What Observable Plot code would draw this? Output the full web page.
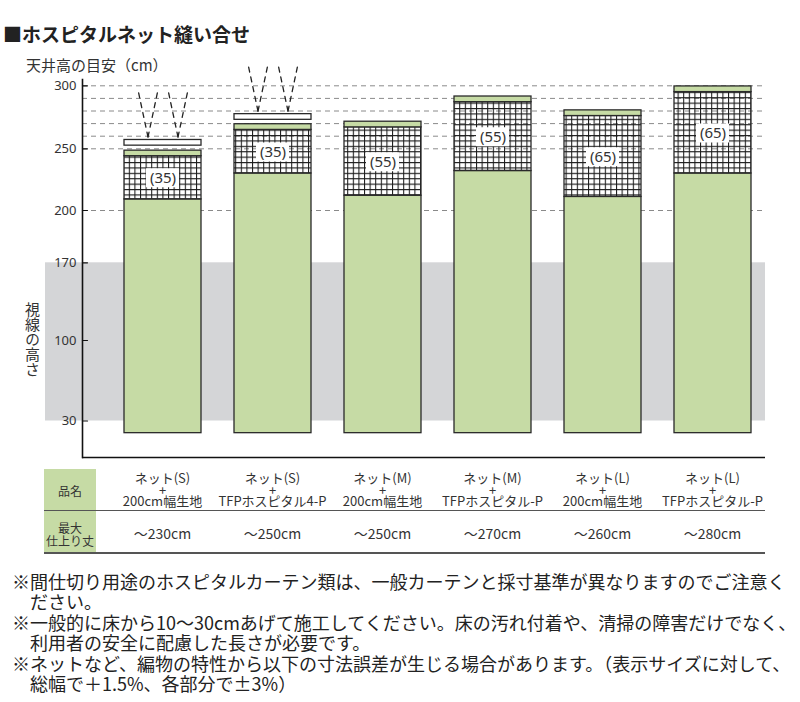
<!DOCTYPE html>
<html><head><meta charset="utf-8">
<script src="https://cdn.jsdelivr.net/npm/d3@7"></script>
<script src="https://cdn.jsdelivr.net/npm/@observablehq/plot@0.6"></script>
<style>
body{margin:0;background:#fff;}
#wrap{position:relative;width:800px;height:702px;overflow:hidden;font-family:"Noto Sans CJK JP","Noto Sans",sans-serif;color:#222;}
.abs{position:absolute;white-space:nowrap;line-height:1;}
.c{transform:translate(-50%,-50%);}
.ml{white-space:pre;text-align:center;}
.pre{white-space:pre;}
</style></head><body><div id="wrap"></div>
<script>
// ---- data ----
const netSizes = ["S","S","M","M","L","L"];
const fabrics = ["200cm幅生地","TFPホスピタル4-P","200cm幅生地","TFPホスピタル-P","200cm幅生地","TFPホスピタル-P"];
const maxFinish = ["～230cm","～250cm","～250cm","～270cm","～260cm","～280cm"];
const floorClearance = [20,20,20,20,20,20];
const fabricTop = [209,230,212,232,211,230];
const netHeight = [35,35,55,55,65,65];
const hemHeight = [4.5,4.5,4.5,4.5,4.5,4.5];
const railIndex = [0,1];
const railBottom = [252.5,273];
const railTop = [257,277.5];
const rayAngles = [-12,12];
const gazeBand = [{lo:30, hi:170}];
const yTicks = [30,100,170,200,250,300];
const gridLines = [200,250,260,270,280,290,300];
const title = "■ホスピタルネット縫い合せ";
const yLabel = "天井高の目安（cm）";
const gazeLabel = "視線の高さ";
const rowHeaders = ["品名","最大\n仕上り丈"];
const footnotes = [
  "※間仕切り用途のホスピタルカーテン類は、一般カーテンと採寸基準が異なりますのでご注意く",
  "　ださい。",
  "※一般的に床から10～30cmあげて施工してください。床の汚れ付着や、清掃の障害だけでなく、",
  "　利用者の安全に配慮した長さが必要です。",
  "※ネットなど、編物の特性から以下の寸法誤差が生じる場合があります。（表示サイズに対して、",
  "　総幅で＋1.5%、各部分で±3%）"
];

// broken (piecewise) vertical axis as drawn in the original
const axisBreaks = [0,30,100,170,200,250,300,305];
const axisSpan   = [0,36.5,117,194.7,247,308.7,371.7,378];
const broken = d3.scaleLinear().domain(axisBreaks).range(axisSpan);

// ---- derived tables ----
const cats = netSizes.map((s,i)=>`ネット(${s})+${fabrics[i]}`);
const rows = cats.map((c,i)=>({
  cat:c, floor:floorClearance[i], fabTop:fabricTop[i],
  netTop:fabricTop[i]+netHeight[i], top:fabricTop[i]+netHeight[i]+hemHeight[i],
  net:netHeight[i], mid:fabricTop[i]+netHeight[i]/2
}));
const rails = railIndex.map((k,j)=>({cat:cats[k], lo:railBottom[j], hi:railTop[j]}));
const rays = rails.flatMap(r=>rayAngles.map(a=>({cat:r.cat, y:r.hi, a})));

const GREEN = "#c6dba5", EDGE = "#2a2a2a";
const lineShape = {draw(ctx,l){ctx.moveTo(0,0);ctx.lineTo(0,-l);}};

const chart = Plot.plot({
  width:800, height:462,
  marginTop:79, marginBottom:5, marginLeft:82, marginRight:35,
  style:{fontFamily:'"Noto Sans","Noto Sans CJK JP",sans-serif', fontSize:"13px", color:"#222", background:"transparent"},
  x:{domain:cats, range:[121,754], paddingInner:0.297, paddingOuter:0, axis:null},
  y:{transform:broken, domain:[0,378], range:[457,79], axis:null},
  marks:[
    Plot.rect(gazeBand,{y1:"lo", y2:"hi", fill:"#d4d5d7", insetLeft:-37}),
    Plot.ruleY(gridLines,{stroke:"#8a8a8a", strokeWidth:1, strokeDasharray:"5,4"}),
    Plot.barY(rows,{x:"cat", y1:"floor", y2:"fabTop", fill:GREEN, stroke:EDGE, strokeWidth:1.3}),
    Plot.barY(rows,{x:"cat", y1:"fabTop", y2:"netTop", fill:"url(#netpat)", stroke:EDGE, strokeWidth:1.3}),
    Plot.barY(rows,{x:"cat", y1:"netTop", y2:"top", fill:GREEN, stroke:EDGE, strokeWidth:1.3}),
    Plot.barY(rails,{x:"cat", y1:"lo", y2:"hi", fill:"#fff", stroke:EDGE, strokeWidth:1.3}),
    Plot.vector(rays,{x:"cat", y:"y", rotate:"a", length:47, dx:-15, dy:-3, anchor:"start", shape:lineShape, stroke:"#222", strokeWidth:1.3, strokeDasharray:"5,5"}),
    Plot.vector(rays,{x:"cat", y:"y", rotate:"a", length:47, dx:15, dy:-3, anchor:"start", shape:lineShape, stroke:"#222", strokeWidth:1.3, strokeDasharray:"5,5"}),
    Plot.tickY(rows,{x:"cat", y:"mid", stroke:"#fff", strokeWidth:19, insetLeft:22, insetRight:22}),
    Plot.text(rows,{x:"cat", y:"mid", text:d=>`(${d.net})`, fontSize:15, fill:"#333"}),
    Plot.vector(yTicks,{y:d=>d, frameAnchor:"left", rotate:90, length:5, anchor:"start", shape:lineShape, stroke:"#111", strokeWidth:1.2}),
    Plot.text(yTicks,{y:d=>d, text:d=>String(d), frameAnchor:"left", dx:-6, textAnchor:"end", fill:"#333", fontSize:13}),
    Plot.frame({anchor:"left", stroke:"#111", strokeWidth:1.6}),
    Plot.ruleY([0],{stroke:"#111", strokeWidth:1.6})
  ]
});

const wrap = document.getElementById("wrap");
chart.style.position="absolute"; chart.style.left="0"; chart.style.top="0";
const defs = document.createElementNS("http://www.w3.org/2000/svg","defs");
defs.innerHTML = '<pattern id="netpat" patternUnits="userSpaceOnUse" width="5.6" height="5.4"><path d="M0.5,0V5.4M0,0.5H5.6" stroke="#1a1a1a" stroke-width="1.1" fill="none"/></pattern>';
chart.prepend(defs);
wrap.appendChild(chart);

function addText(txt, x, y, css, cls=" c"){
  const d=document.createElement("div");
  d.className="abs"+cls;
  d.textContent=txt; d.style.left=x+"px"; d.style.top=y+"px";
  Object.assign(d.style, css||{});
  wrap.appendChild(d); return d;
}
function addBox(x,y,w,h,css){
  const d=document.createElement("div");
  d.style.position="absolute"; d.style.left=x+"px"; d.style.top=y+"px";
  d.style.width=w+"px"; d.style.height=h+"px";
  Object.assign(d.style, css); wrap.appendChild(d);
}

// title & labels
addText(title, 3, 24, {fontSize:"19px", fontWeight:"700", color:"#222"}, "");
addText(yLabel, 26, 57, {fontSize:"15px", color:"#333"}, "");
addText(gazeLabel, 24, 302, {fontSize:"15px", color:"#333", writingMode:"vertical-rl", lineHeight:"16px"}, "");

// table
const xs = chart.scale("x");
const cx = c => xs.apply(c) + xs.bandwidth/2;
addBox(44,469,52,41,{background:GREEN});
addBox(44,511,52,41,{background:GREEN});
addBox(44,509.5,721,1.6,{background:"#555"});
addBox(44,552,721,1.6,{background:"#555"});
addText(rowHeaders[0], 70, 491, {fontSize:"12px", color:"#333"});
addText(rowHeaders[1], 70, 533.5, {fontSize:"12px", color:"#333", lineHeight:"13px"}, " c ml");
cats.forEach((c,i)=>{
  const x = cx(c);
  addText(`ネット(${netSizes[i]})\n+\n${fabrics[i]}`, x, 489, {fontSize:"13px", color:"#333", lineHeight:"11.5px"}, " c ml");
  addText(maxFinish[i], x, 533, {fontSize:"14px", color:"#333"});
});

// footnotes
addText(footnotes.join("\n"), 12, 571, {fontSize:"18px", color:"#222", lineHeight:"20.4px"}, " pre");
</script></body></html>
